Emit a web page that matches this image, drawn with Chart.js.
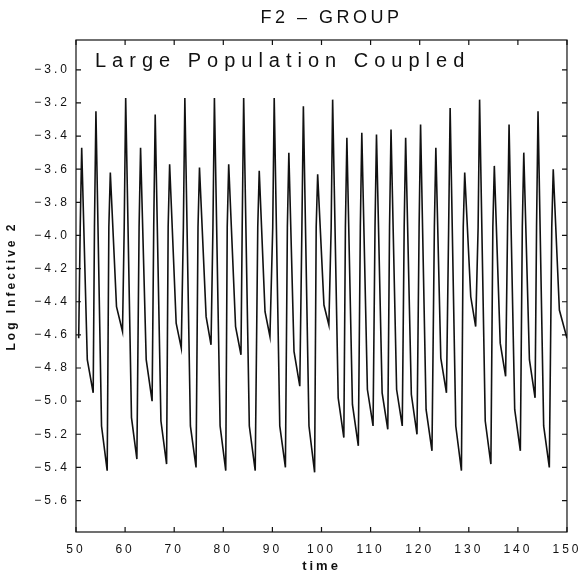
<!DOCTYPE html>
<html>
<head>
<meta charset="utf-8">
<script src="https://cdn.jsdelivr.net/npm/chart.js@4.4.1/dist/chart.umd.min.js"></script>
<style>
    html, body { margin: 0; padding: 0; background: #fff; }
    #wrap { width: 587px; height: 577px; }
</style>
</head>
<body>
<div id="wrap"><canvas id="f2Chart"></canvas></div>
<script>
// time points and log infective (group 2)
const time = [
    50.55, 50.86, 51.16, 52.3, 53.5,
    53.76, 54.06, 55.2, 56.35,
    56.69, 56.99, 58.25, 59.47,
    59.82, 60.12, 61.3, 62.4,
    62.85, 63.15, 64.3, 65.5,
    65.83, 66.13, 67.3, 68.45,
    68.77, 69.07, 70.4, 71.44,
    71.87, 72.17, 73.3, 74.45,
    74.85, 75.15, 76.5, 77.5,
    77.89, 78.19, 79.35, 80.5,
    80.8, 81.1, 82.5, 83.6,
    83.85, 84.15, 85.3, 86.5,
    87.02, 87.32, 88.5, 89.5,
    90.07, 90.37, 91.5, 92.65,
    93.05, 93.35, 94.4, 95.58,
    96.01, 96.31, 97.45, 98.6,
    98.92, 99.22, 100.5, 101.5,
    101.97, 102.27, 103.4, 104.55,
    104.87, 105.17, 106.3, 107.5,
    107.91, 108.21, 109.35, 110.5,
    110.9, 111.2, 112.35, 113.5,
    113.86, 114.16, 115.3, 116.45,
    116.84, 117.14, 118.3, 119.45,
    119.88, 120.18, 121.3, 122.5,
    122.99, 123.29, 124.3, 125.45,
    125.9, 126.2, 127.35, 128.5,
    128.87, 129.17, 130.4, 131.4,
    131.9, 132.2, 133.35, 134.5,
    134.9, 135.2, 136.4, 137.5,
    137.9, 138.2, 139.35, 140.5,
    140.9, 141.2, 142.35, 143.5,
    143.8, 144.1, 145.25, 146.4,
    146.9, 147.2, 148.45, 150.0
];
const logInfective = [
    -4.62, -3.95, -3.47, -4.75, -4.95,
    -3.95, -3.25, -5.15, -5.42,
    -3.95, -3.62, -4.43, -4.58,
    -3.95, -3.17, -5.10, -5.35,
    -3.95, -3.47, -4.75, -5.00,
    -3.95, -3.27, -5.12, -5.38,
    -3.95, -3.57, -4.53, -4.68,
    -3.95, -3.17, -5.15, -5.40,
    -3.95, -3.59, -4.49, -4.66,
    -3.95, -3.17, -5.15, -5.42,
    -3.95, -3.57, -4.55, -4.72,
    -3.95, -3.17, -5.15, -5.42,
    -3.95, -3.61, -4.46, -4.61,
    -3.95, -3.17, -5.15, -5.40,
    -3.95, -3.50, -4.70, -4.91,
    -3.95, -3.22, -5.15, -5.43,
    -3.95, -3.63, -4.42, -4.54,
    -3.95, -3.18, -4.98, -5.22,
    -3.95, -3.41, -5.02, -5.27,
    -3.95, -3.38, -4.93, -5.15,
    -3.95, -3.39, -4.95, -5.17,
    -3.95, -3.36, -4.93, -5.15,
    -3.95, -3.41, -4.96, -5.20,
    -3.95, -3.33, -5.05, -5.30,
    -3.95, -3.47, -4.74, -4.95,
    -3.95, -3.23, -5.15, -5.42,
    -3.95, -3.62, -4.37, -4.55,
    -3.95, -3.18, -5.12, -5.38,
    -3.95, -3.58, -4.65, -4.85,
    -3.95, -3.33, -5.05, -5.30,
    -3.95, -3.50, -4.75, -4.98,
    -3.95, -3.25, -5.15, -5.40,
    -3.95, -3.60, -4.45, -4.62
];
const xTicks = [50, 60, 70, 80, 90, 100, 110, 120, 130, 140, 150];
const yTicks = [-5.6, -5.4, -5.2, -5.0, -4.8, -4.6, -4.4, -4.2, -4.0, -3.8, -3.6, -3.4, -3.2, -3.0];
const chartTitle = 'F2 – GROUP';
const panelLabel = 'Large Population Coupled';

const ink = '#111';
const fontFamily = '"Liberation Sans", Arial, sans-serif';

// frame with inward ticks on all four sides, plus title and panel label
const framePlugin = {
    id: 'frame',
    beforeDraw(chart) {
        chart.ctx.letterSpacing = '3px';
    },
    afterDraw(chart) {
        const ctx = chart.ctx;
        const a = chart.chartArea;
        const x = chart.scales.x;
        const y = chart.scales.y;
        ctx.save();
        ctx.strokeStyle = ink;
        ctx.lineWidth = 1.2;
        ctx.strokeRect(a.left, a.top, a.right - a.left, a.bottom - a.top);
        ctx.beginPath();
        xTicks.forEach(function (v) {
            const px = x.getPixelForValue(v);
            ctx.moveTo(px, a.bottom); ctx.lineTo(px, a.bottom - 5);
            ctx.moveTo(px, a.top); ctx.lineTo(px, a.top + 5);
        });
        yTicks.forEach(function (v) {
            const py = y.getPixelForValue(v);
            ctx.moveTo(a.left, py); ctx.lineTo(a.left + 5, py);
            ctx.moveTo(a.right, py); ctx.lineTo(a.right - 5, py);
        });
        ctx.stroke();

        ctx.fillStyle = ink;
        ctx.textBaseline = 'middle';
        ctx.letterSpacing = '3.5px';
        ctx.font = '18px ' + fontFamily;
        ctx.textAlign = 'center';
        ctx.fillText(chartTitle, (a.left + a.right) / 2 + 10, 18);

        ctx.letterSpacing = '6px';
        ctx.font = '20px ' + fontFamily;
        ctx.textAlign = 'left';
        ctx.fillText(panelLabel, a.left + 19, a.top + 21);
        ctx.restore();
    }
};

const points = time.map(function (t, i) { return { x: t, y: logInfective[i] }; });

new Chart(document.getElementById('f2Chart').getContext('2d'), {
    type: 'line',
    data: {
        datasets: [{
            label: 'Log Infective 2',
            data: points,
            borderColor: ink,
            borderWidth: 1.6,
            pointRadius: 0,
            tension: 0,
            fill: false
        }]
    },
    options: {
        responsive: true,
        maintainAspectRatio: false,
        animation: false,
        layout: { padding: { top: 40, right: 18, bottom: 0, left: 0 } },
        plugins: {
            legend: { display: false },
            tooltip: { enabled: false }
        },
        scales: {
            x: {
                type: 'linear',
                min: 50,
                max: 150,
                afterBuildTicks: function (scale) { scale.ticks = xTicks.map(function (v) { return { value: v }; }); },
                afterFit: function (scale) { scale.height = 45; },
                grid: { display: false, drawTicks: false },
                border: { display: false },
                ticks: {
                    color: ink,
                    padding: 10,
                    maxRotation: 0,
                    font: { family: fontFamily, size: 12 },
                    callback: function (v) { return String(v); }
                },
                title: {
                    display: true,
                    text: 'time',
                    color: ink,
                    padding: { top: 0, bottom: 3 },
                    font: { family: fontFamily, size: 13, weight: 'bold' }
                }
            },
            y: {
                type: 'linear',
                min: -5.79,
                max: -2.82,
                afterBuildTicks: function (scale) { scale.ticks = yTicks.map(function (v) { return { value: v }; }); },
                afterFit: function (scale) { scale.width = 76; },
                grid: { display: false, drawTicks: false },
                border: { display: false },
                ticks: {
                    color: ink,
                    padding: 6,
                    font: { family: fontFamily, size: 12 },
                    callback: function (v) { return (v < 0 ? '−' : '') + Math.abs(v).toFixed(1); }
                },
                title: {
                    display: true,
                    text: 'Log Infective 2',
                    color: ink,
                    padding: { top: 4, bottom: 0 },
                    font: { family: fontFamily, size: 12, weight: 'bold' }
                }
            }
        }
    },
    plugins: [framePlugin]
});
</script>
</body>
</html>
